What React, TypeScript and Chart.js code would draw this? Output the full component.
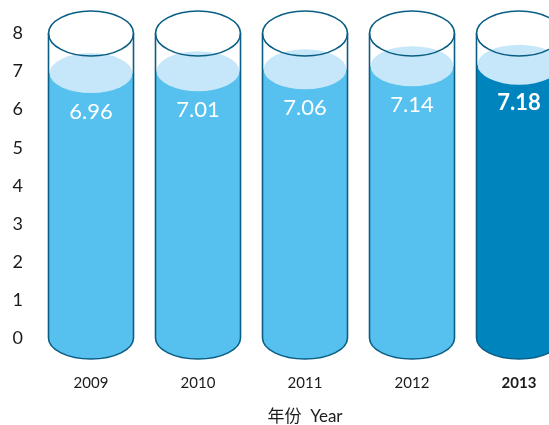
import { useEffect, useRef } from "react";
import { Chart, registerables } from "chart.js";

Chart.register(...registerables);

const years = ["2009", "2010", "2011", "2012", "2013"];
const values = [6.96, 7.01, 7.06, 7.14, 7.18];
const valueLabels = ["6.96", "7.01", "7.06", "7.14", "7.18"];
const yMin = 0;
const yMax = 8;
const yStep = 1;
const highlightIndex = 4;
const axisTitle = "年份  Year";

const LIQUID = "#56c1ef";
const LIQUID_HL = "#0084be";
const SURFACE = "#c6e7f9";
const OUTLINE = "#0a5e84";
const FONT = "Lato, 'Noto Sans CJK SC', sans-serif";
const RIM_RY = 22.5;
const BASE_RY = 21;
const LIQ_RY = 20;

const cylinderPlugin = {
  id: "cylinders",
  afterDatasetsDraw(chart: any) {
    const { ctx } = chart;
    const y = chart.scales.y;
    const meta = chart.getDatasetMeta(0);
    const yTop = y.getPixelForValue(yMax);
    const yBase = y.getPixelForValue(yMin);
    meta.data.forEach((bar: any, i: number) => {
      const { x, y: yVal, width } = bar.getProps(["x", "y", "width"], true);
      const rx = width / 2;
      const liquid = i === highlightIndex ? LIQUID_HL : LIQUID;
      ctx.save();
      // bottom rounded fill
      ctx.fillStyle = liquid;
      ctx.beginPath();
      ctx.ellipse(x, yBase, rx, BASE_RY, 0, 0, Math.PI);
      ctx.fill();
      // liquid surface
      ctx.fillStyle = SURFACE;
      ctx.beginPath();
      ctx.ellipse(x, yVal, rx - 1, LIQ_RY, 0, 0, Math.PI * 2);
      ctx.fill();
      // outline of tube
      ctx.strokeStyle = OUTLINE;
      ctx.lineWidth = 1.6;
      ctx.beginPath();
      ctx.moveTo(x - rx, yTop);
      ctx.lineTo(x - rx, yBase);
      ctx.ellipse(x, yBase, rx, BASE_RY, 0, Math.PI, 0, true);
      ctx.lineTo(x + rx, yTop);
      ctx.stroke();
      ctx.beginPath();
      ctx.ellipse(x, yTop, rx, RIM_RY, 0, 0, Math.PI * 2);
      ctx.stroke();
      // value label
      ctx.fillStyle = "#ffffff";
      ctx.textAlign = "center";
      ctx.textBaseline = "middle";
      ctx.font = (i === highlightIndex ? "bold " : "normal ") + "22px " + FONT;
      ctx.fillText(valueLabels[i], x, yVal + 38.5);
      ctx.restore();
    });
  },
};

export default function App() {
  const ref = useRef<HTMLCanvasElement>(null);
  useEffect(() => {
    if (!ref.current) return;
    const chart = new Chart(ref.current, {
      type: "bar",
      data: {
        labels: years,
        datasets: [
          {
            data: values,
            backgroundColor: values.map((_, i) => (i === highlightIndex ? LIQUID_HL : LIQUID)),
            borderWidth: 0,
            barPercentage: 85 / 107,
            categoryPercentage: 1,
          },
        ],
      },
      options: {
        responsive: false,
        animation: false,
        layout: { padding: { top: 33.5, right: 0.5, bottom: 0, left: 0 } },
        plugins: { legend: { display: false }, tooltip: { enabled: false } },
        scales: {
          x: {
            grid: { display: false, drawTicks: false },
            border: { display: false },
            ticks: {
              color: "#1b1b1b",
              padding: 36,
              font: (c: any) => ({
                family: FONT,
                size: 15,
                weight: c.index === highlightIndex ? "bold" : "normal",
              }),
            },
            title: {
              display: true,
              text: axisTitle,
              color: "#1b1b1b",
              font: { family: FONT, size: 17, lineHeight: 1.05 },
              padding: { top: 0, bottom: 0 },
            },
            afterFit: (s: any) => {
              s.height = 87;
            },
          },
          y: {
            min: yMin,
            max: yMax,
            grid: { display: false, drawTicks: false },
            border: { display: false },
            ticks: {
              stepSize: yStep,
              color: "#1b1b1b",
              padding: 14.5,
              font: { family: FONT, size: 18 },
            },
            afterFit: (s: any) => {
              s.width = 37.5;
            },
          },
        },
      },
      plugins: [cylinderPlugin],
    });
    return () => chart.destroy();
  }, []);
  return (
    <div
      style={{
        position: "fixed",
        left: 0,
        top: 0,
        width: 549,
        height: 425,
        overflow: "hidden",
        background: "#fff",
      }}
    >
      <canvas ref={ref} width={573} height={425} style={{ display: "block" }} />
    </div>
  );
}
